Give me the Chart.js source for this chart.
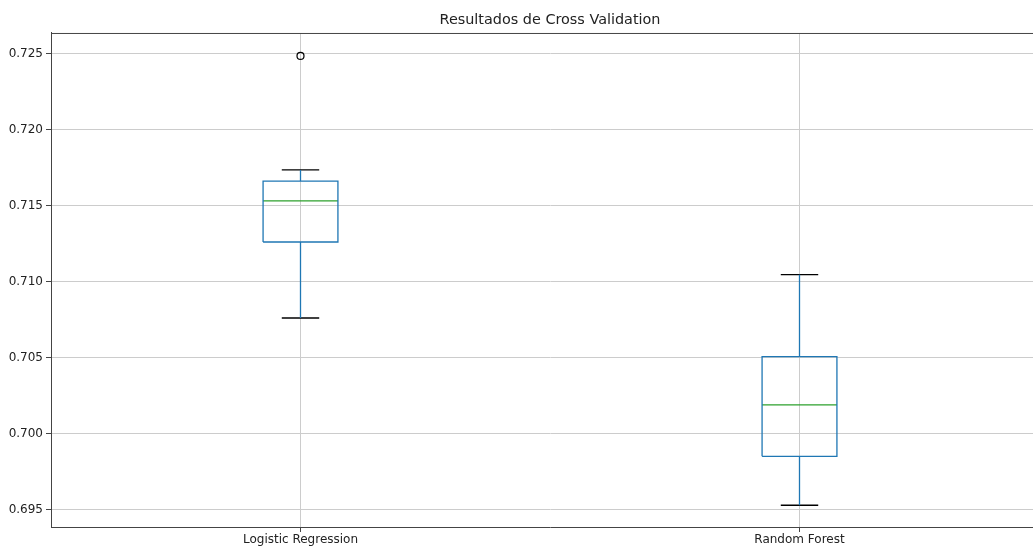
<!DOCTYPE html>
<html>
<head>
<meta charset="utf-8">
<script src="https://cdn.jsdelivr.net/npm/chart.js@4"></script>
<style>
  html, body { margin: 0; padding: 0; background: #fff; overflow: hidden; }
  #wrap { position: absolute; left: 0; top: 0; width: 1100px; height: 560px; }
</style>
</head>
<body>
<div id="wrap"><canvas id="cv-chart"></canvas></div>
<script>
const categories = ["Logistic Regression", "Random Forest"];
const whiskerLow  = [0.70763, 0.69531];
const q1          = [0.71263, 0.69853];
const median      = [0.71533, 0.70191];
const q3          = [0.71664, 0.70509];
const whiskerHigh = [0.71737, 0.71048];
const fliers      = [[0.72487], []];
const yTicks = [0.695, 0.700, 0.705, 0.710, 0.715, 0.720, 0.725];

const boxColor = "#1f77b4";
const medColor = "#2ca02c";
const capColor = "#000000";
const halfBox = 0.075;
const halfCap = 0.0375;

function seg(pts, color) {
  return {
    type: "scatter", showLine: true, data: pts,
    borderColor: color, borderWidth: 1.3,
    pointRadius: 0, tension: 0, fill: false
  };
}

const datasets = [];
categories.forEach((name, i) => {
  const x = i + 1;
  // box
  datasets.push(seg([
    {x: x - halfBox, y: q1[i]}, {x: x + halfBox, y: q1[i]},
    {x: x + halfBox, y: q3[i]}, {x: x - halfBox, y: q3[i]},
    {x: x - halfBox, y: q1[i]}
  ], boxColor));
  // whiskers
  datasets.push(seg([{x: x, y: q1[i]}, {x: x, y: whiskerLow[i]}], boxColor));
  datasets.push(seg([{x: x, y: q3[i]}, {x: x, y: whiskerHigh[i]}], boxColor));
  // caps
  datasets.push(seg([{x: x - halfCap, y: whiskerLow[i]}, {x: x + halfCap, y: whiskerLow[i]}], capColor));
  datasets.push(seg([{x: x - halfCap, y: whiskerHigh[i]}, {x: x + halfCap, y: whiskerHigh[i]}], capColor));
  // median
  datasets.push(seg([{x: x - halfBox, y: median[i]}, {x: x + halfBox, y: median[i]}], medColor));
  // outliers
  datasets.push({
    type: "scatter",
    data: fliers[i].map(v => ({x: x, y: v})),
    pointStyle: "circle", pointRadius: 3.5,
    borderColor: "#000", borderWidth: 1.2,
    backgroundColor: "rgba(0,0,0,0)"
  });
});

// top spine of the axes box
const frame = {
  id: "frame",
  afterDraw(chart) {
    const a = chart.chartArea, c = chart.ctx;
    c.save();
    c.strokeStyle = "#444";
    c.lineWidth = 1;
    c.beginPath();
    c.moveTo(a.left, a.top + 0.5);
    c.lineTo(a.right, a.top + 0.5);
    c.stroke();
    c.restore();
  }
};

const font = {family: "DejaVu Sans", size: 12};

new Chart(document.getElementById("cv-chart"), {
  type: "scatter",
  data: {datasets: datasets},
  plugins: [frame],
  options: {
    responsive: true,
    maintainAspectRatio: false,
    animation: false,
    layout: {padding: {left: 0, right: 51, top: 0, bottom: 0}},
    plugins: {
      legend: {display: false},
      tooltip: {enabled: false},
      title: {
        display: true,
        fullSize: false,
        text: "Resultados de Cross Validation",
        color: "#222",
        font: {family: "DejaVu Sans", size: 14.4, weight: "normal"},
        padding: {top: 12, bottom: 3.7}
      }
    },
    scales: {
      x: {
        type: "linear", min: 0.5, max: 2.5,
        afterBuildTicks: s => { s.ticks = categories.map((c, i) => ({value: i + 1})); },
        afterFit: s => { s.height = 33; },
        ticks: {
          callback: v => categories[v - 1],
          color: "#222", font: font, padding: 1, maxRotation: 0
        },
        grid: {color: "#cccccc", lineWidth: 1, tickLength: 5, tickColor: "#444"},
        border: {color: "#444", width: 1}
      },
      y: {
        min: 0.69388, max: 0.72638,
        afterBuildTicks: s => { s.ticks = yTicks.map(v => ({value: v})); },
        afterFit: s => { s.width = 51; },
        ticks: {
          callback: v => v.toFixed(3),
          color: "#222", font: font, padding: 3
        },
        grid: {color: "#cccccc", lineWidth: 1, tickLength: 5, tickColor: "#444"},
        border: {color: "#444", width: 1}
      }
    }
  }
});
</script>
</body>
</html>
